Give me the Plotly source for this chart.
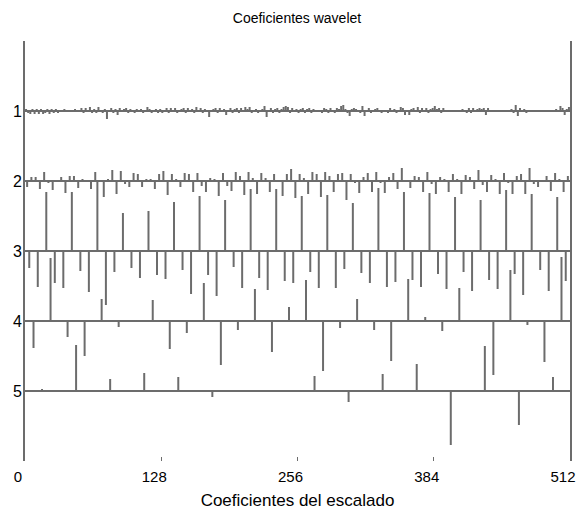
import plotly.graph_objects as go

# Wavelet detail coefficients per level (display units: 70 = one level gap), positive = up
level1 = [2,-2,-3,2,-3,2,-3,2,-3,-2,2,-3,2,-2,2,-2,
          0,0,2,0,0,0,0,2,0,0,3,-2,3,0,4,-2,
          2,-2,4,0,-2,2,-8,0,3,-2,2,-4,3,0,2,3,
          -2,2,0,-2,2,0,2,-2,0,4,2,-2,0,2,-2,2,
          -2,0,3,-2,3,0,3,-2,0,2,3,-2,3,0,2,-2,
          4,0,3,-2,2,0,-6,0,2,3,-2,3,0,2,-4,0,
          3,-2,2,3,-2,3,0,4,2,4,-2,0,2,-2,0,2,
          5,-6,0,3,-2,2,3,-2,2,4,5,4,-2,3,0,2,
          -2,2,3,-2,2,3,-2,2,0,0,0,-2,3,2,-2,3,
          0,-2,3,2,5,6,2,-2,-5,2,3,2,0,-2,5,-5,
          0,3,-2,0,2,3,0,-2,0,0,-2,3,0,2,-2,0,
          4,3,-4,0,-4,2,3,0,4,-2,3,0,3,-2,2,3,
          5,2,3,-2,3,0,0,0,0,0,0,0,0,2,0,-2,
          3,-2,3,0,2,3,2,3,-4,3,0,0,0,0,0,0,
          0,0,0,0,2,-2,6,-5,3,0,2,-2,0,0,0,0,
          0,0,0,0,0,0,0,0,0,2,0,5,3,-4,2,4]
level2 = [-6,4,4,-8,9,-2,-9,0,4,-12,5,5,-7,2,0,-8,
          9,0,-16,2,11,-13,10,-3,-6,8,7,-6,2,2,-8,7,
          10,-14,7,2,-6,8,7,-11,8,-5,-11,3,2,-15,8,-5,
          -10,9,5,-14,9,3,-13,8,3,-11,7,0,-15,7,12,-17,
          7,3,-13,9,7,-16,9,5,-11,7,8,-19,7,-2,-12,4,
          8,-11,9,-2,-12,4,8,-8,13,0,-7,5,4,-11,9,-3,
          -13,4,2,-11,7,2,-13,6,4,-8,11,-4,-11,6,2,-13,
          8,-2,-13,5,7,-13,13,-3,-6,0,5,-10,8,2,-11,5]
level3 = [-17,-36,59,-32,-37,59,-20,-41,70,-54,-21,38,-17,-27,40,-24,
          -28,49,-19,-43,55,-24,-45,51,-16,-37,62,-27,-39,62,-30,-32,
          55,-21,-37,56,-37,-18,48,-22,-32,63,-36,-31,59,-29,-36,58,
          -23,-38,54,-21,-40,51,-29,-38,61,-23,-44,57,-19,-40,54,-30]
level4 = [-27,63,-16,-35,22,-6,1,21,-28,-12,38,-44,-9,32,-31,14,
          41,-50,-7,22,-9,-40,42,4,-10,33,-1,-54,51,-4,-41,64]
level5 = [2,46,12,18,14,-6,0,0,15,-11,17,27,-54,45,-34,14]

levels = [1, 2, 3, 4, 5]
level_data = [level1, level2, level3, level4, level5]
x_ticks = [0, 128, 256, 384, 512]
n_total = 512
level_gap = 70.0

title_text = "Coeficientes wavelet"
xlabel_text = "Coeficientes del escalado"

GRAY = "rgb(108,108,108)"
FONT = "Liberation Sans, Arial, Helvetica, sans-serif"

fig = go.Figure()

# baselines
bx, by = [], []
for lv in levels:
    bx += [0, n_total, None]
    by += [lv, lv, None]
fig.add_trace(go.Scatter(x=bx, y=by, mode="lines",
                         line=dict(color=GRAY, width=2), hoverinfo="skip",
                         showlegend=False))

# stems
for lv, vals in zip(levels, level_data):
    step = 2 ** lv
    xs, ys = [], []
    for i, v in enumerate(vals):
        if v == 0:
            continue
        xp = step * i + step / 2
        xs += [xp, xp, None]
        ys += [lv, lv - v / level_gap, None]
    fig.add_trace(go.Scatter(x=xs, y=ys, mode="lines",
                             line=dict(color=GRAY, width=2),
                             showlegend=False, name=f"Nivel {lv}"))

fig.update_layout(
    width=586, height=511,
    template="none",
    paper_bgcolor="white", plot_bgcolor="white",
    margin=dict(l=17, r=24, t=33, b=58, pad=0),
    font=dict(family=FONT, color="black", size=15),
    title=dict(text=title_text, x=289 / 586, xanchor="center", xref="container",
               y=1 - 10 / 511, yanchor="middle", yref="container",
               font=dict(size=14, family=FONT, color="black")),
    xaxis=dict(range=[0, n_total], tickvals=x_ticks,
               ticktext=[str(t) for t in x_ticks],
               ticks="inside", ticklen=4, tickcolor=GRAY, tickwidth=1,
               ticklabelstandoff=5, ticklabelshift=-7,
               showline=False, showgrid=False, zeroline=False,
               automargin=False,
               title=dict(text=xlabel_text, standoff=10,
                          font=dict(size=17, family=FONT)),
               tickfont=dict(size=15)),
    yaxis=dict(range=[6, 0], tickvals=levels,
               ticktext=[str(l) for l in levels],
               ticks="", showline=True, mirror=True,
               linecolor=GRAY, linewidth=2,
               ticklabelstandoff=-2,
               showgrid=False, zeroline=False, automargin=False,
               tickfont=dict(size=16)),
)

fig.write_html("out.html")
